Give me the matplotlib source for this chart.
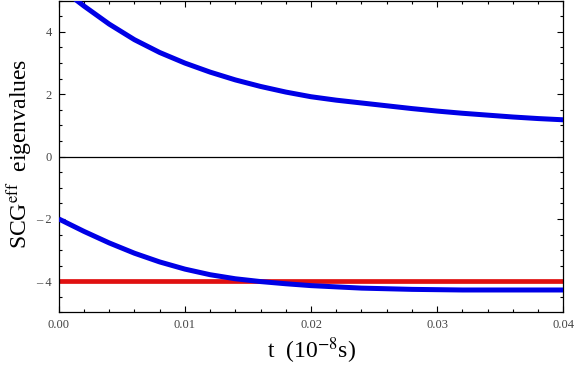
import numpy as np
import matplotlib
matplotlib.use("Agg")
import matplotlib.pyplot as plt
from matplotlib.ticker import MultipleLocator, FixedLocator, FixedFormatter

plt.rcParams['font.family'] = ['Liberation Serif', 'DejaVu Serif']
plt.rcParams['mathtext.fontset'] = 'stix'

# values (t in units of 1e-8 s)
t = [0.000, 0.002, 0.004, 0.006, 0.008, 0.010, 0.012, 0.014, 0.016, 0.018,
     0.020, 0.022, 0.024, 0.026, 0.028, 0.030, 0.032, 0.034, 0.036, 0.038,
     0.040]
upper = [5.45, 4.83, 4.25, 3.75, 3.34, 3.00, 2.71, 2.46, 2.25, 2.07,
         1.92, 1.81, 1.72, 1.63, 1.54, 1.46, 1.39, 1.33, 1.27, 1.22,
         1.18]
lower = [-2.00, -2.40, -2.77, -3.10, -3.38, -3.61, -3.79, -3.92, -4.01, -4.08,
         -4.14, -4.18, -4.22, -4.24, -4.26, -4.27, -4.28, -4.28, -4.28, -4.28,
         -4.28]
red_level = -4.0

xticks = [0.00, 0.01, 0.02, 0.03, 0.04]
xticklabels = ["0.00", "0.01", "0.02", "0.03", "0.04"]
yticks = [-4, -2, 0, 2, 4]
yticklabels = ["\u2013 4", "\u2013 2", "0", "2", "4"]

fig = plt.figure(figsize=(5.76, 3.68), dpi=100)
ax = fig.add_axes([0.102, 0.151, 0.876, 0.847])

ax.axhline(0, color='black', lw=0.9, zorder=1)
ax.plot(t, upper, color='#0000e6', lw=3.6, solid_capstyle='butt', zorder=3)
ax.plot(t, lower, color='#0000e6', lw=3.6, solid_capstyle='butt', zorder=3)
ax.plot([t[0], t[-1]], [red_level, red_level], color='#e01010', lw=3.4,
        solid_capstyle='butt', zorder=2)

ax.set_xlim(0, 0.04)
ax.set_ylim(-5, 5)

ax.xaxis.set_major_locator(FixedLocator(xticks))
ax.xaxis.set_major_formatter(FixedFormatter(xticklabels))
ax.xaxis.set_minor_locator(MultipleLocator(0.002))
ax.yaxis.set_major_locator(FixedLocator(yticks))
ax.yaxis.set_major_formatter(FixedFormatter(yticklabels))
ax.yaxis.set_minor_locator(MultipleLocator(0.5))

ax.tick_params(which='both', direction='in', top=True, right=True,
               width=0.8, labelsize=9, labelcolor='#444444', pad=5)
ax.tick_params(which='major', length=4.5)
ax.tick_params(which='minor', length=2.5)
for s in ax.spines.values():
    s.set_linewidth(0.9)

ax.set_xlabel("t  (10$^{-8}$s)", fontsize=17, labelpad=3)
ax.set_ylabel("SCG$^{\\mathrm{eff}}$  eigenvalues", fontsize=17)
ax.yaxis.set_label_coords(-0.047, 0.51)

fig.savefig("out.png", dpi=100)
